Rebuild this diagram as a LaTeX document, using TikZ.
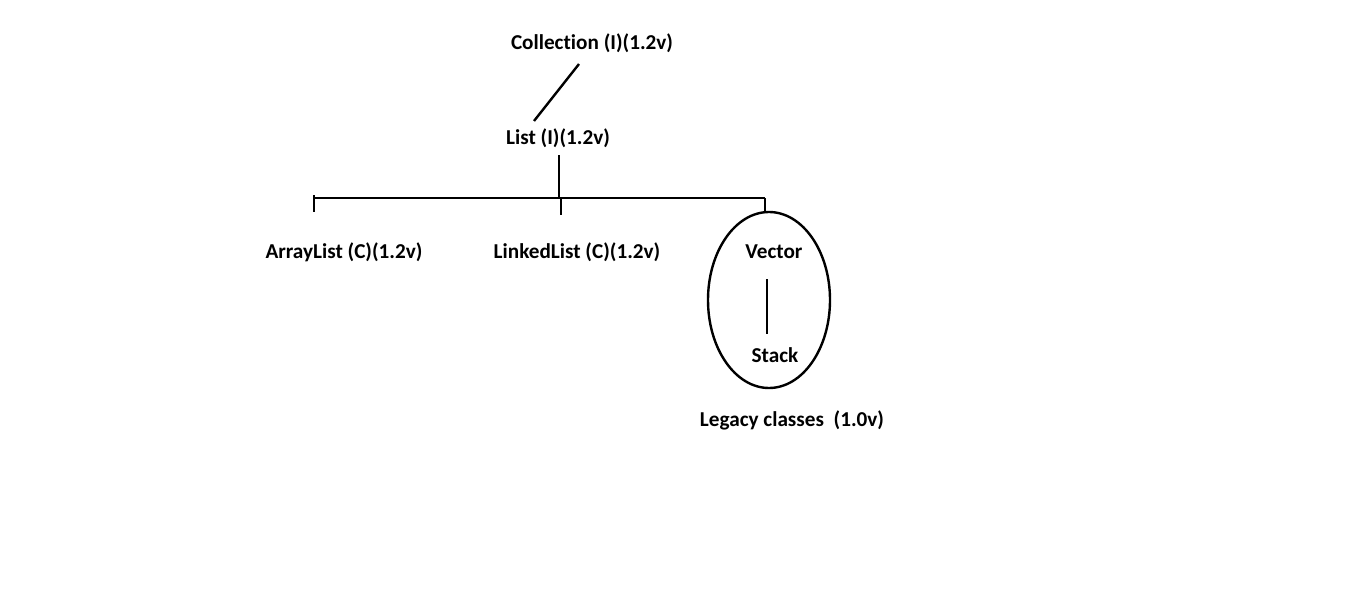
\documentclass[tikz,border=0pt]{standalone}
\usepackage{fontspec}
\setmainfont[Ligatures={NoCommon}]{Carlito}
\usetikzlibrary{shapes.geometric}
\begin{document}
\begin{tikzpicture}[x=1pt,y=-1pt,
  lbl/.style={font=\bfseries\fontsize{21.2}{25}\selectfont, inner sep=0pt, text=black},
  ln/.style={draw=black, line width=2.4pt}]
\useasboundingbox (0,0) rectangle (1360,594);
\fill[white] (0,0) rectangle (1360,594);
\node[lbl] (coll) at (592,43) {Collection (I)(1.2v)};
\node[lbl] (list) at (558,138) {List (I)(1.2v)};
\node[lbl] (al) at (344,252) {ArrayList (C)(1.2v)};
\node[lbl] (ll) at (577,252) {LinkedList (C)(1.2v)};
\node[lbl] (vec) at (774,252) {Vector};
\node[lbl] (stack) at (775,355) {Stack};
\node[lbl] (legacy) at (792,420) {Legacy classes~~(1.0v)};
\node[ellipse, draw=black, line width=2.4pt, minimum width=122pt, minimum height=176pt, inner sep=0pt] (ell) at (769,300) {};
\coordinate (c1) at (579,64);
\coordinate (c2) at (534,121);
\draw[ln] (c1) -- (c2);
\coordinate (lb) at (559,155);
\coordinate (j) at (559,198);
\draw[ln] (lb) -- (j);
\coordinate (hl) at (314,198);
\coordinate (hr) at (765,198);
\draw[ln] (hl) -- (hr);
\coordinate (t1) at (314,212);
\draw[ln] (314,195) -- (t1);
\coordinate (t2a) at (561,198);
\coordinate (t2b) at (561,215);
\draw[ln] (t2a) -- (t2b);
\draw[ln] (hr) -- (ell.north -| hr);
\coordinate (v1) at (767,279);
\coordinate (v2) at (767,334);
\draw[ln] (v1) -- (v2);
\end{tikzpicture}
\end{document}
